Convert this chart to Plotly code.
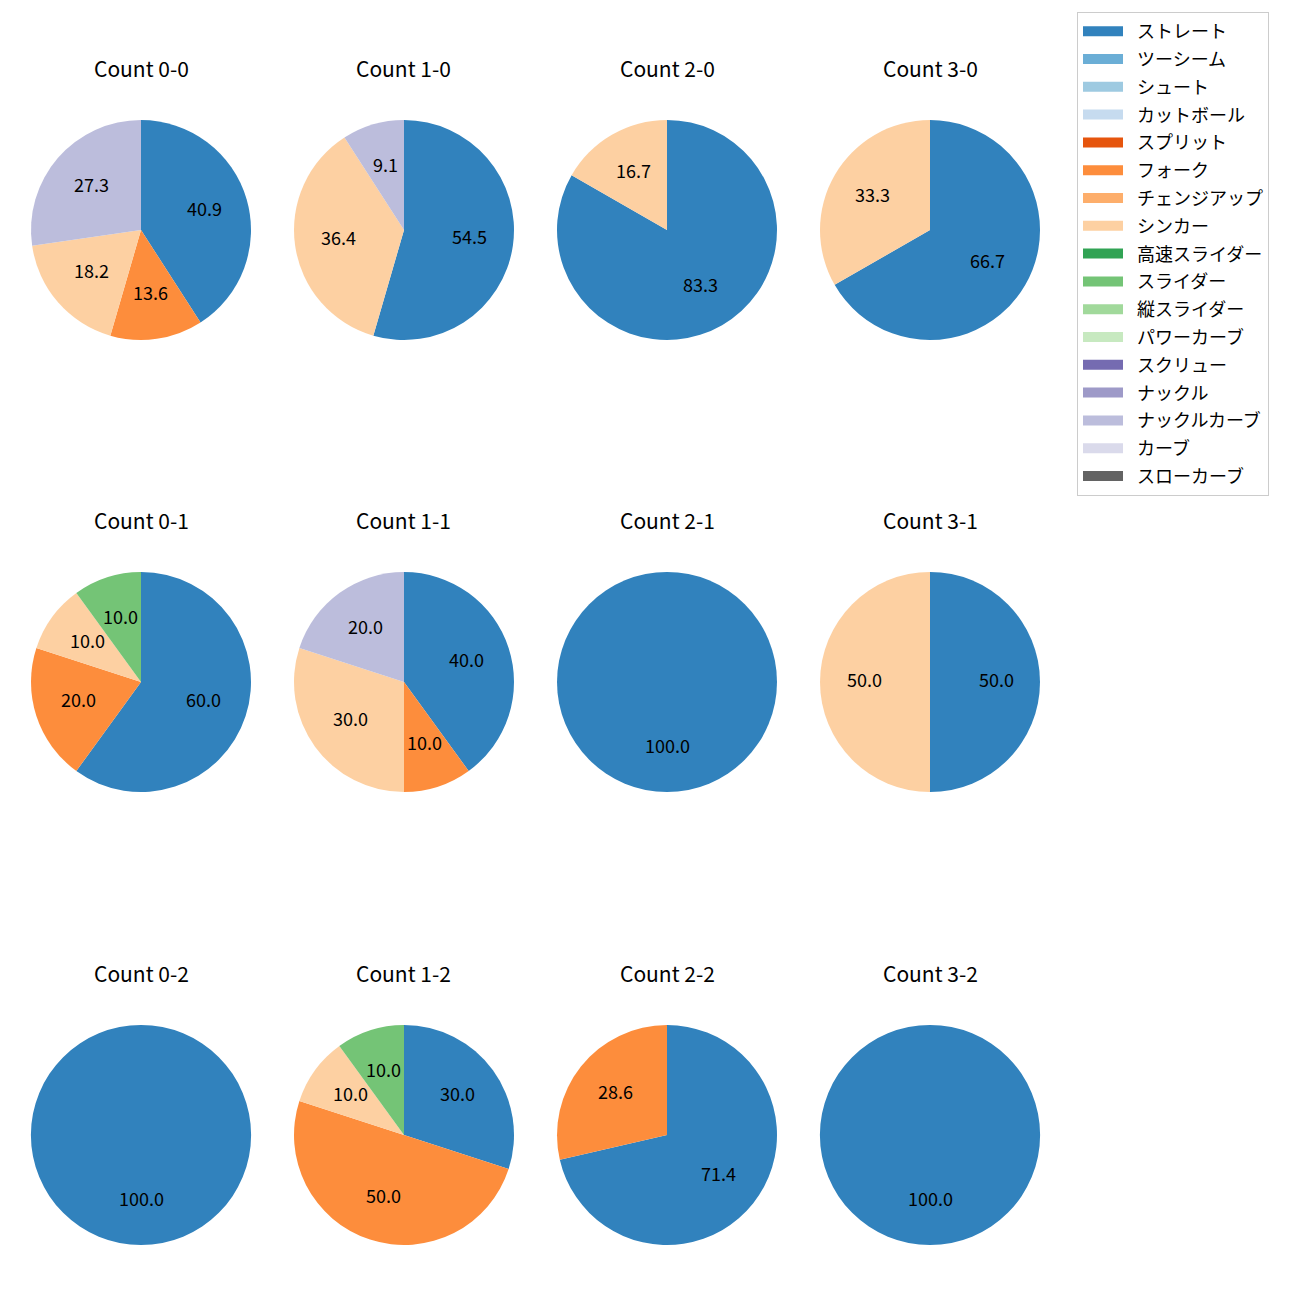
import math
import plotly.graph_objects as go

W, H = 1300, 1300

pitch_types = ["ストレート", "ツーシーム", "シュート", "カットボール", "スプリット", "フォーク",
               "チェンジアップ", "シンカー", "高速スライダー", "スライダー", "縦スライダー",
               "パワーカーブ", "スクリュー", "ナックル", "ナックルカーブ", "カーブ", "スローカーブ"]
pitch_colors = ["#3182bd", "#6baed6", "#9ecae1", "#c6dbef", "#e6550d", "#fd8d3c",
                "#fdae6b", "#fdd0a2", "#31a354", "#74c476", "#a1d99b", "#c7e9c0",
                "#756bb1", "#9e9ac8", "#bcbddc", "#dadaeb", "#636363"]

count_0_0 = {"ストレート": 40.9, "フォーク": 13.6, "シンカー": 18.2, "ナックルカーブ": 27.3}
count_1_0 = {"ストレート": 54.5, "シンカー": 36.4, "ナックルカーブ": 9.1}
count_2_0 = {"ストレート": 83.3, "シンカー": 16.7}
count_3_0 = {"ストレート": 66.7, "シンカー": 33.3}
count_0_1 = {"ストレート": 60.0, "フォーク": 20.0, "シンカー": 10.0, "スライダー": 10.0}
count_1_1 = {"ストレート": 40.0, "フォーク": 10.0, "シンカー": 30.0, "ナックルカーブ": 20.0}
count_2_1 = {"ストレート": 100.0}
count_3_1 = {"ストレート": 50.0, "シンカー": 50.0}
count_0_2 = {"ストレート": 100.0}
count_1_2 = {"ストレート": 30.0, "フォーク": 50.0, "シンカー": 10.0, "スライダー": 10.0}
count_2_2 = {"ストレート": 71.4, "フォーク": 28.6}
count_3_2 = {"ストレート": 100.0}

count_titles = ["Count 0-0", "Count 1-0", "Count 2-0", "Count 3-0",
                "Count 0-1", "Count 1-1", "Count 2-1", "Count 3-1",
                "Count 0-2", "Count 1-2", "Count 2-2", "Count 3-2"]
count_data = [count_0_0, count_1_0, count_2_0, count_3_0,
              count_0_1, count_1_1, count_2_1, count_3_1,
              count_0_2, count_1_2, count_2_2, count_3_2]

# layout (pixels)
col_cx = [141, 404, 667, 930]
row_cy = [230, 682, 1135]
R = 110
title_offset = 161
FONT = "Noto Sans CJK JP"

color_of = dict(zip(pitch_types, pitch_colors))

fig = go.Figure()
annotations = []
for i, (title, data) in enumerate(zip(count_titles, count_data)):
    cx = col_cx[i % 4]
    cy = row_cy[i // 4]
    labels = [p for p in pitch_types if p in data]
    values = [data[p] for p in labels]
    fig.add_trace(go.Pie(
        labels=labels, values=values,
        marker=dict(colors=[color_of[p] for p in labels], line=dict(width=0)),
        sort=False, direction="clockwise", rotation=0,
        textinfo="none", hoverinfo="label+percent", showlegend=False,
        domain=dict(x=[(cx - R) / W, (cx + R) / W], y=[1 - (cy + R) / H, 1 - (cy - R) / H]),
    ))
    total = sum(values)
    cum = 0.0
    for v in values:
        mid = (cum + v / 2) / total
        cum += v
        theta = math.radians(90 - 360 * mid)
        px = cx + 0.6 * R * math.cos(theta)
        py = cy - 0.6 * R * math.sin(theta)
        annotations.append(dict(
            x=px / W, y=1 - py / H, xref="paper", yref="paper",
            text=f"{100 * v / total:.1f}", showarrow=False, yshift=3,
            font=dict(family=FONT, size=18, color="black"),
            xanchor="center", yanchor="middle"))
    annotations.append(dict(
        x=cx / W, y=1 - (cy - title_offset) / H, xref="paper", yref="paper",
        text=title, showarrow=False, yshift=1,
        font=dict(family=FONT, size=21, color="black"),
        xanchor="center", yanchor="middle"))

# legend entries
for p, c in zip(pitch_types, pitch_colors):
    fig.add_trace(go.Scatter(
        x=[None], y=[None], mode="lines", name="\u2002" + p, legendgroup=p,
        line=dict(color=c, width=13), hoverinfo="skip"))

fig.update_layout(
    width=W, height=H,
    margin=dict(l=0, r=0, t=0, b=0),
    paper_bgcolor="white", plot_bgcolor="white",
    xaxis=dict(visible=False), yaxis=dict(visible=False),
    annotations=annotations,
    showlegend=True,
    legend=dict(
        x=1077 / W, y=1 - 12 / H, xanchor="left", yanchor="top",
        bordercolor="#cccccc", borderwidth=1, bgcolor="white",
        font=dict(family=FONT, size=18, color="black"),
        tracegroupgap=1.4, traceorder="grouped", itemwidth=40),
)

fig.write_html("out.html", config={"displayModeBar": False},
               post_script="document.body.style.margin='0px';")
